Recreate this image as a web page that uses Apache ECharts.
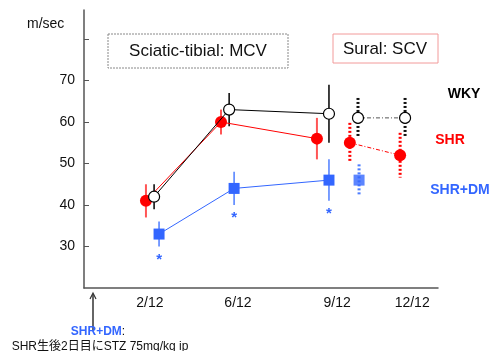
<!DOCTYPE html>
<html>
<head>
<meta charset="utf-8">
<script src="https://cdn.jsdelivr.net/npm/echarts@6/dist/echarts.min.js"></script>
<style>
  html, body { margin: 0; padding: 0; background: #fff; }
  #chart { width: 493px; height: 351px; }
</style>
</head>
<body>
<div id="chart"></div>
<script>
// x positions on an abstract 0-100 track (groups are offset a little, like the original)
const tickPos = [18.6, 43.5, 71.5, 92.7]
const tickLabels = ['2/12', '6/12', '9/12', '12/12']
const yLabels = [30, 40, 50, 60, 70]
const yTicks = [30, 40, 50, 60, 70, 80]

// Sciatic-tibial MCV
const mcvWkyX = [19.8, 41.0, 69.2]
const mcvWky = [42, 63, 62]
const mcvWkyErr = [3, 4, 7]
const mcvShrX = [17.5, 38.7, 65.8]
const mcvShr = [41, 60, 56]
const mcvShrErr = [4, 3, 5]
const mcvDmX = [21.2, 42.4, 69.2]
const mcvDm = [33, 44, 46]
const mcvDmErr = [3, 4, 5]

// Sural SCV
const scvWkyX = [77.4, 90.7]
const scvWky = [61, 61]
const scvWkyErr = [4.8, 4.8]
const scvShrX = [75.1, 89.3]
const scvShr = [55, 52]
const scvShrErr = [4.8, 5.4]
const scvDmX = [77.7]
const scvDm = [46]
const scvDmErr = [3.8]

const font = '"Liberation Sans", Arial, sans-serif'
const red = '#ff0000'
const blue = '#3366ff'

const pts = (xs, ys) => xs.map((x, i) => [x, ys[i]])
const errs = (xs, ys, es) => xs.map((x, i) => [x, ys[i] - es[i], ys[i] + es[i]])

function errBar(data, color, width, dash) {
  return {
    type: 'custom',
    z: 1,
    silent: true,
    data: data,
    renderItem: (params, api) => {
      const p1 = api.coord([api.value(0), api.value(2)])
      const p2 = api.coord([api.value(0), api.value(1)])
      return {
        type: 'line',
        shape: {x1: p1[0], y1: p1[1], x2: p2[0], y2: p2[1]},
        style: {stroke: color, lineWidth: width, lineDash: dash || null}
      }
    }
  }
}

const chart = echarts.init(document.getElementById('chart'))
chart.setOption({
  animation: false,
  grid: {left: 84, right: 55, top: 10, bottom: 63},
  xAxis: {
    type: 'value',
    min: 0,
    max: 100,
    splitLine: {show: false},
    axisTick: {show: false},
    axisLine: {show: true, lineStyle: {color: '#555', width: 1.5}},
    axisLabel: {
      customValues: tickPos,
      formatter: v => tickLabels[tickPos.indexOf(v)] || '',
      color: '#111', fontSize: 14, fontFamily: font, margin: 8
    }
  },
  yAxis: {
    type: 'value',
    min: 20,
    max: 87,
    splitLine: {show: false},
    axisLine: {show: true, lineStyle: {color: '#555', width: 1.5}},
    axisTick: {show: true, inside: true, length: 5, customValues: yTicks, lineStyle: {color: '#555'}},
    axisLabel: {customValues: yLabels, color: '#111', fontSize: 14, fontFamily: font, margin: 9}
  },
  series: [
    errBar(errs(mcvWkyX, mcvWky, mcvWkyErr), '#000', 1.5),
    errBar(errs(mcvShrX, mcvShr, mcvShrErr), '#ff5555', 2),
    errBar(errs(mcvDmX, mcvDm, mcvDmErr), '#4d7dff', 1.5),
    errBar(errs(scvWkyX, scvWky, scvWkyErr), '#111', 3, [2, 2]),
    errBar(errs(scvShrX, scvShr, scvShrErr), red, 3, [2, 2]),
    errBar(errs(scvDmX, scvDm, scvDmErr), '#4d7dff', 3, [2, 2]),
    {
      type: 'line', data: pts(mcvShrX, mcvShr), z: 3,
      lineStyle: {color: red, width: 1},
      symbol: 'circle', symbolSize: 12,
      itemStyle: {color: red}
    },
    {
      type: 'line', data: pts(mcvWkyX, mcvWky), z: 4,
      lineStyle: {color: '#000', width: 1},
      symbol: 'circle', symbolSize: 11,
      itemStyle: {color: '#fff', borderColor: '#000', borderWidth: 1.2}
    },
    {
      type: 'line', data: pts(mcvDmX, mcvDm), z: 3,
      lineStyle: {color: blue, width: 1},
      symbol: 'rect', symbolSize: 11,
      itemStyle: {color: blue}
    },
    {
      type: 'line', data: pts(scvShrX, scvShr), z: 3,
      lineStyle: {color: red, width: 1, type: [4, 2, 1, 2]},
      symbol: 'circle', symbolSize: 12,
      itemStyle: {color: red}
    },
    {
      type: 'line', data: pts(scvWkyX, scvWky), z: 4,
      lineStyle: {color: '#555', width: 1, type: [4, 2, 1, 2]},
      symbol: 'circle', symbolSize: 11,
      itemStyle: {color: '#fff', borderColor: '#000', borderWidth: 1.2}
    },
    {
      type: 'scatter', data: pts(scvDmX, scvDm), z: 3,
      symbol: 'rect', symbolSize: 11,
      itemStyle: {color: blue}
    },
    {
      // significance asterisks under the SHR+DM error bars
      type: 'custom', z: 5, silent: true,
      data: errs(mcvDmX, mcvDm, mcvDmErr),
      renderItem: (params, api) => {
        const p = api.coord([api.value(0), api.value(1)])
        return {
          type: 'text',
          style: {x: p[0], y: p[1] + 13, text: '*', fill: blue, font: 'bold 15px ' + font, align: 'center', verticalAlign: 'middle'}
        }
      }
    }
  ],
  graphic: [
    {type: 'text', left: 27, top: 17, style: {text: 'm/sec', fill: '#111', font: '14px ' + font}},
    {type: 'rect', shape: {x: 108, y: 34, width: 180, height: 34}, style: {fill: '#fff', stroke: '#888', lineWidth: 1, lineDash: [2, 1]}},
    {type: 'text', x: 198, y: 51, style: {text: 'Sciatic-tibial: MCV', fill: '#111', font: '17px ' + font, align: 'center', verticalAlign: 'middle'}},
    {type: 'rect', shape: {x: 333, y: 34, width: 105, height: 29}, style: {fill: '#fff', stroke: '#f29a9a', lineWidth: 1}},
    {type: 'text', x: 385, y: 49, style: {text: 'Sural: SCV', fill: '#111', font: '17px ' + font, align: 'center', verticalAlign: 'middle'}},
    {type: 'text', x: 464, y: 94, style: {text: 'WKY', fill: '#000', font: 'bold 14px ' + font, align: 'center', verticalAlign: 'middle'}},
    {type: 'text', x: 450, y: 140, style: {text: 'SHR', fill: red, font: 'bold 14px ' + font, align: 'center', verticalAlign: 'middle'}},
    {type: 'text', x: 460, y: 190, style: {text: 'SHR+DM', fill: blue, font: 'bold 14px ' + font, align: 'center', verticalAlign: 'middle'}},
    {type: 'line', shape: {x1: 93, y1: 294, x2: 93, y2: 330}, style: {stroke: '#333', lineWidth: 1.5}},
    {type: 'polyline', shape: {points: [[90, 299], [93, 293], [96, 299]]}, style: {stroke: '#333', lineWidth: 1.2, fill: null}},
    {type: 'text', x: 98, y: 332, style: {text: '{b|SHR+DM}:', rich: {b: {fill: blue, font: 'bold 12px ' + font}}, fill: '#111', font: '12px ' + font, align: 'center', verticalAlign: 'middle'}},
    {type: 'text', x: 100, y: 347, style: {text: 'SHR生後2日目にSTZ 75mg/kg ip', fill: '#111', font: '12px "Liberation Sans", "Noto Sans CJK JP", sans-serif', align: 'center', verticalAlign: 'middle'}}
  ]
})
</script>
</body>
</html>
